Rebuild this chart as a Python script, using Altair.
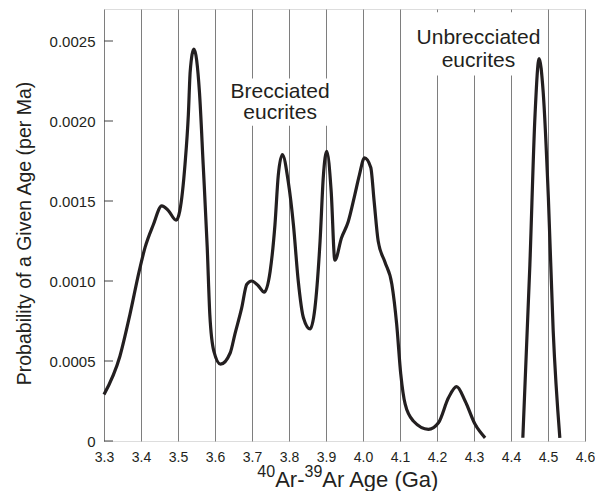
import altair as alt
import pandas as pd

# Brecciated eucrites probability curve (age in Ga, probability per Ma)
brec_age = [3.300, 3.343, 3.370, 3.395, 3.411, 3.433, 3.456, 3.474, 3.495, 3.505,
            3.519, 3.528, 3.533, 3.543, 3.558, 3.568, 3.579, 3.586, 3.597, 3.615,
            3.641, 3.654, 3.672, 3.686, 3.699, 3.717, 3.733, 3.749, 3.762, 3.771,
            3.782, 3.798, 3.812, 3.825, 3.839, 3.857, 3.870, 3.884, 3.893, 3.902,
            3.914, 3.924, 3.942, 3.960, 3.978, 3.990, 4.004, 4.021, 4.030, 4.041,
            4.059, 4.078, 4.091, 4.102, 4.114, 4.136, 4.177, 4.204, 4.231, 4.253,
            4.276, 4.303, 4.330]
brec_prob = [0.00029, 0.00053, 0.00079, 0.00106, 0.00121, 0.00135, 0.00147, 0.00144, 0.00138, 0.00144,
             0.00173, 0.00204, 0.00231, 0.00245, 0.00218, 0.00173, 0.00121, 0.00079, 0.00056, 0.00048,
             0.00055, 0.00067, 0.00083, 0.00098, 0.00100, 0.00097, 0.00093, 0.00106, 0.00135, 0.00166,
             0.00179, 0.00162, 0.00135, 0.00100, 0.00077, 0.00070, 0.00083, 0.00125, 0.00166, 0.00181,
             0.00156, 0.00113, 0.00127, 0.00137, 0.00154, 0.00166, 0.00177, 0.00171, 0.00150, 0.00125,
             0.00112, 0.00098, 0.00073, 0.00042, 0.00023, 0.000125, 0.000073, 0.000114, 0.00027, 0.00034,
             0.00025, 0.000104, 0.00002]

# Unbrecciated eucrites probability curve
unbrec_age = [4.432, 4.451, 4.465, 4.476, 4.487, 4.501, 4.514, 4.532]
unbrec_prob = [0.00002, 0.00110, 0.00204, 0.00239, 0.00218, 0.00152, 0.00069, 0.00002]

x_ticks = [3.3, 3.4, 3.5, 3.6, 3.7, 3.8, 3.9, 4.0, 4.1, 4.2, 4.3, 4.4, 4.5, 4.6]
y_ticks = [0, 0.0005, 0.0010, 0.0015, 0.0020, 0.0025]

# Annotation text (data coordinates)
label_text = ["Brecciated", "eucrites", "Unbrecciated", "eucrites"]
label_x = [3.776, 3.776, 4.312, 4.312]
label_y = [0.002184, 0.002053, 0.002517, 0.002378]

# White backgrounds behind annotation text (data coordinates)
box_x = [3.630, 4.127]
box_x2 = [3.924, 4.492]
box_y = [0.00197, 0.002284]
box_y2 = [0.002265, 0.00268]

# x-axis title pieces: mass numbers (superscript) and element text
title_sup = ["40", "39"]
title_main = ["Ar-", "Ar Age (Ga)"]

INK = "#231f20"
FONT = "Liberation Sans"

curve_df = pd.DataFrame({
    "age": brec_age + unbrec_age,
    "prob": brec_prob + unbrec_prob,
    "group": ["Brecciated"] * len(brec_age) + ["Unbrecciated"] * len(unbrec_age),
})
label_df = pd.DataFrame({"text": label_text, "x": label_x, "y": label_y})
box_df = pd.DataFrame({"x": box_x, "x2": box_x2, "y": box_y, "y2": box_y2})
ytick_df = pd.DataFrame({"v": y_ticks})

xscale = alt.Scale(domain=[3.3, 4.6], nice=False, zero=False)
yscale = alt.Scale(domain=[0, 0.0027], nice=False)

xaxis = alt.Axis(values=x_ticks, format=".1f", grid=True, gridColor="#7e7e7e",
                 gridWidth=1, tickSize=0, domain=False, labelPadding=9,
                 labelFlush=False, labelBound=False,
                 labelFontSize=14, labelColor=INK, labelFont=FONT, title="")
yaxis = alt.Axis(values=y_ticks, grid=False, tickSize=0, domain=False, labelPadding=9,
                 labelExpr="datum.value == 0 ? '0' : format(datum.value, '.4f')",
                 labelFontSize=15, labelColor=INK, labelFont=FONT,
                 title="Probability of a Given Age (per Ma)", titleFontSize=19.5,
                 titleFontWeight="normal", titleFont=FONT, titleColor=INK,
                 titlePadding=15, titleY=224)

boxes = alt.Chart(box_df).mark_rect(fill="white").encode(
    x=alt.X("x:Q", scale=xscale, axis=xaxis),
    x2="x2:Q",
    y=alt.Y("y:Q", scale=yscale, axis=yaxis),
    y2="y2:Q",
)

lines = alt.Chart(curve_df).mark_line(color=INK, strokeWidth=3.2, interpolate="monotone").encode(
    x=alt.X("age:Q", scale=xscale, axis=xaxis),
    y=alt.Y("prob:Q", scale=yscale, axis=yaxis),
    detail="group:N",
)

texts = alt.Chart(label_df).mark_text(fontSize=21, font=FONT, color=INK,
                                      align="center", baseline="middle").encode(
    x=alt.X("x:Q", scale=xscale, axis=xaxis),
    y=alt.Y("y:Q", scale=yscale, axis=yaxis),
    text="text:N",
)

yticks = alt.Chart(ytick_df).mark_rule(color="#444444", strokeWidth=1).encode(
    y=alt.Y("v:Q", scale=yscale, axis=yaxis),
    x=alt.value(0),
    x2=alt.value(9),
)

# x-axis title built from pieces so that the mass numbers are superscripts
MAIN = 22
SUP = 16
BASE = 477.5
w_sup = 1.112 * SUP
w_ar = 1.333 * MAIN
w_rest = 5.335 * MAIN
total = 2 * w_sup + w_ar + w_rest
x0 = 244.5 - total / 2
pos = [x0, x0 + w_sup, x0 + w_sup + w_ar, x0 + 2 * w_sup + w_ar]

def title_piece(txt, xpos, size, base):
    return alt.Chart(pd.DataFrame({"t": [txt]})).mark_text(
        font=FONT, fontSize=size, color=INK, align="left", baseline="alphabetic"
    ).encode(text="t:N", x=alt.value(xpos), y=alt.value(base))

title_layers = [
    title_piece(title_sup[0], pos[0], SUP, BASE - 10),
    title_piece(title_main[0], pos[1], MAIN, BASE),
    title_piece(title_sup[1], pos[2], SUP, BASE - 10),
    title_piece(title_main[1], pos[3], MAIN, BASE),
]

chart = alt.layer(boxes, lines, texts, yticks, *title_layers).properties(
    width=481, height=432,
    autosize=alt.AutoSizeParams(type="none"),
    padding={"left": 96, "top": 1, "right": 10, "bottom": 50},
).configure_view(stroke=INK, strokeWidth=1.5).configure(background="white")

chart.save("out.html", embed_options={"renderer": "svg", "actions": False})
